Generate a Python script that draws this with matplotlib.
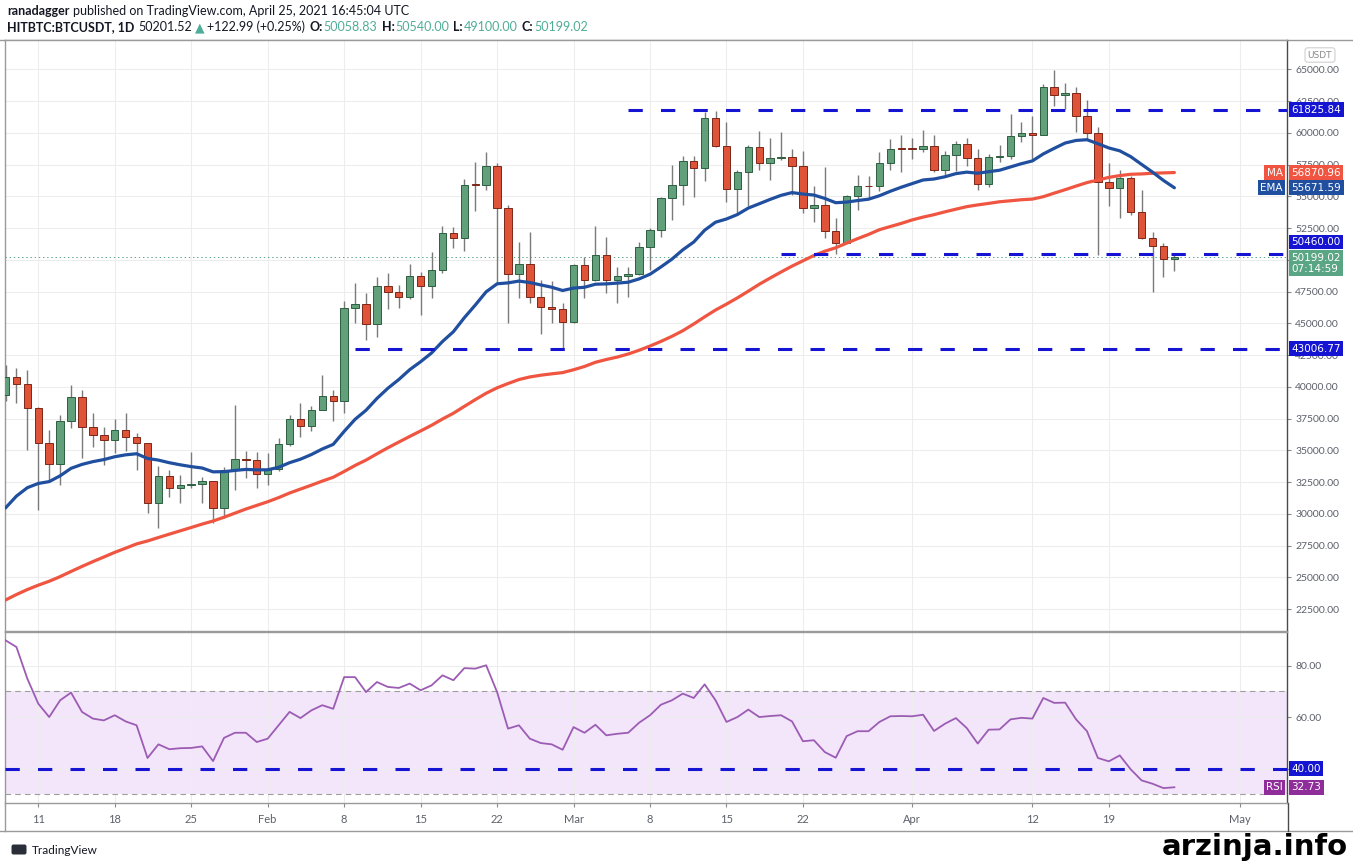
import matplotlib
matplotlib.use('Agg')
import matplotlib.pyplot as plt
import matplotlib.transforms as mtransforms
from matplotlib.patches import FancyBboxPatch
import numpy as np
import pandas as pd

plt.rcParams['font.family'] = ['Liberation Sans Narrow', 'Lato', 'DejaVu Sans']
plt.rcParams['lines.scale_dashes'] = False

# daily candles, HITBTC BTC/USDT
start_date = '2021-01-08'
end_date = '2021-04-25'

opens = [39371, 40797, 40254, 38356, 35566, 33923, 37316, 39187, 36825, 36178, 35792, 36630,
         36069, 35547, 30825, 33005, 32067, 32289, 32366, 32569, 30433, 33466, 34316, 34269,
         33114, 33537, 35510, 37472, 36926, 38144, 39266, 38903, 46196, 46481, 44918, 47909,
         47504, 47106, 48717, 47945, 49199, 52149, 51679, 55888, 55887, 57412, 54087, 48891,
         49676, 47073, 46276, 46106,
         45135, 49587, 48440, 50349, 48374, 48751, 48882, 50971, 52375, 54884, 55851, 57773,
         57221, 61188, 58968, 55605, 56900, 58912, 57648, 58030, 58102, 57351, 54083, 54340,
         52303, 51293, 55025, 55817, 55777, 57635, 58746,
         58740, 58720, 58981, 57094, 58216, 59123, 58019, 56000, 58093, 58134, 59770, 60002,
         59860, 63575, 62959, 63159, 61334, 60006, 56150, 55633, 56425, 53787, 51690, 51125,
         50058.83]
highs = [41700, 41500, 41340, 38400, 36600, 37800, 40160, 39760, 37950, 36850, 37480, 37950,
         36370, 35600, 33770, 33450, 33060, 34880, 32900, 32600, 33700, 38570, 34950, 34880,
         34800, 35980, 37800, 38740, 38500, 40950, 39760, 46780, 48200, 47400, 48680, 48990,
         48050, 49700, 49070, 50650, 52700, 52600, 56400, 57670, 58460, 57600, 54300, 51430,
         52150, 48440, 48360, 46630,
         49700, 50250, 52700, 51830, 49400, 49400, 51430, 52500, 54950, 57430, 58140, 58140,
         61610, 61690, 60820, 57100, 59000, 60110, 59560, 60030, 58690, 58530, 55850, 57270,
         53330, 55100, 56640, 56560, 58460, 59480, 59800,
         59560, 60190, 59800, 58530, 59320, 59560, 58690, 58300, 59010, 61450, 60820, 61290,
         63820, 64920, 63900, 63580, 62550, 60420, 57590, 57110, 56560, 55530, 52150, 51300,
         50540]
lows = [38900, 38740, 35030, 30300, 32670, 32270, 36770, 34400, 35270, 33850, 34800, 34950,
        33460, 30060, 28880, 31330, 30850, 32040, 30850, 29280, 29670, 31880, 32820, 32040,
        32270, 33400, 35300, 36060, 36500, 38190, 37320, 37950, 45050, 43700, 43950, 46150,
        46230, 46940, 45680, 47020, 49000, 50960, 50730, 53880, 55530, 48200, 45050, 47020,
        46630, 44180, 45050, 43000,
        45000, 47020, 48300, 47400, 46600, 47100, 48800, 49230, 51830, 53170, 54350, 54980,
        56170, 58900, 54590, 53720, 54200, 57040, 56250, 57820, 55140, 53720, 53010, 51750,
        50490, 51300, 53960, 54750, 55400, 57040, 56880,
        57900, 58450, 56880, 56640, 56960, 57350, 55460, 55770, 57670, 57900, 59240, 57900,
        59800, 62080, 61850, 60030, 59480, 50410, 54200, 53330, 53560, 51600, 47490, 48680,
        49100]
closes = [40797, 40254, 38356, 35566, 33923, 37316, 39187, 36825, 36178, 35792, 36630, 36069,
          35547, 30825, 33005, 32067, 32289, 32366, 32569, 30433, 33466, 34316, 34269, 33114,
          33537, 35510, 37472, 36926, 38144, 39266, 38903, 46196, 46481, 44918, 47909, 47504,
          47106, 48717, 47945, 49199, 52149, 51679, 55888, 55887, 57412, 54087, 48891, 49676,
          47073, 46276, 46106, 45135,
          49587, 48440, 50349, 48374, 48751, 48882, 50971, 52375, 54884, 55851, 57773, 57221,
          61188, 58968, 55605, 56900, 58912, 57648, 58030, 58102, 57351, 54083, 54340, 52303,
          51293, 55025, 55817, 55777, 57635, 58746, 58740,
          58720, 58981, 57094, 58216, 59123, 58019, 56000, 58093, 58134, 59770, 60002, 59860,
          63575, 62959, 63159, 61334, 60006, 56150, 55633, 56425, 53787, 51690, 51125, 50047,
          50199.02]

ma50 = [23212, 23643, 24036, 24379, 24690, 25053, 25461, 25855, 26236, 26597, 26966, 27293,
        27629, 27861, 28132, 28399, 28662, 28922, 29190, 29432, 29730, 30051, 30375, 30661,
        30949, 31274, 31635, 31947, 32254, 32577, 32878, 33332, 33807, 34229, 34722, 35198,
        35646, 36091, 36525, 36968, 37463, 37919, 38457, 38987, 39493, 39919, 40257, 40571,
        40776, 40914, 41020, 41118,
        41343, 41600, 41929, 42150, 42341, 42582, 42878, 43210, 43575, 43971, 44416, 44944,
        45508, 46046, 46512, 47003, 47530, 48074, 48565, 49041, 49503, 49922, 50338, 50674,
        50950, 51312, 51665, 51995, 52370, 52621, 52866,
        53142, 53363, 53555, 53777, 53985, 54186, 54322, 54441, 54570, 54648, 54730, 54779,
        54969, 55250, 55520, 55805, 56080, 56281, 56491, 56628, 56735, 56762, 56817, 56843,
        56870.96]
ema20 = [30460, 31393, 32056, 32390, 32536, 32991, 33581, 33890, 34108, 34268, 34493, 34643,
         34729, 34357, 34228, 34022, 33857, 33715, 33606, 33304, 33319, 33414, 33495, 33459,
         33466, 33661, 34024, 34300, 34666, 35104, 35466, 36488, 37440, 38152, 39081, 39883,
         40571, 41347, 41975, 42663, 43566, 44339, 45439, 46434, 47480, 48109, 48183, 48325,
         48206, 48022, 47840, 47582,
         47773, 47837, 48076, 48104, 48166, 48234, 48495, 48865, 49438, 50049, 50785, 51398,
         52330, 52962, 53214, 53565, 54074, 54414, 54758, 55076, 55293, 55178, 55098, 54832,
         54495, 54545, 54666, 54772, 55045, 55397, 55715,
         56001, 56285, 56362, 56539, 56785, 56903, 56817, 56939, 57053, 57312, 57568, 57786,
         58337, 58777, 59194, 59398, 59456, 59141, 58807, 58580, 58124, 57511, 56903, 56250,
         55671.59]
rsi14 = [89.8, 87.2, 74.9, 65.2, 60.0, 66.5, 69.5, 62.0, 59.4, 58.7, 60.7, 58.3,
         56.8, 44.1, 49.4, 47.5, 47.9, 48.0, 48.6, 42.9, 51.9, 53.9, 53.9, 50.3,
         51.6, 56.8, 62.0, 59.6, 62.6, 64.6, 63.2, 75.5, 75.5, 69.7, 73.6, 71.7,
         71.3, 73.0, 70.4, 72.3, 76.2, 74.3, 79.0, 78.8, 80.1, 69.7, 55.5, 56.8,
         51.6, 49.9, 49.4, 47.3,
         56.1, 53.9, 57.0, 52.9, 53.5, 53.9, 57.8, 60.7, 64.8, 66.5, 69.1, 67.4,
         72.7, 66.5, 58.1, 60.0, 62.9, 60.0, 60.4, 60.7, 58.3, 50.6, 51.0, 46.4,
         44.2, 52.6, 54.5, 54.5, 58.1, 60.3, 60.4,
         60.3, 60.9, 54.6, 57.4, 59.6, 55.7, 49.7, 55.1, 55.2, 59.1, 59.7, 59.4,
         67.4, 65.5, 65.6, 59.1, 54.5, 44.1, 42.8, 45.1, 39.7, 35.4, 34.1, 32.4,
         32.73]

# drawn support / resistance levels
levels = [61825.84, 50460.00, 43006.77]
level_from = ['2021-03-06', '2021-03-20', '2021-02-09']
rsi_level = 40.0

tick_dates = ['2021-01-11', '2021-01-18', '2021-01-25', '2021-02-01', '2021-02-08',
              '2021-02-15', '2021-02-22', '2021-03-01', '2021-03-08', '2021-03-15',
              '2021-03-22', '2021-04-01', '2021-04-12', '2021-04-19', '2021-05-01']
tick_labels = ['11', '18', '25', 'Feb', '8', '15', '22', 'Mar', '8', '15', '22', 'Apr',
               '12', '19', 'May']
price_ticks = np.arange(22500, 65001, 2500)
hidden_price_labels = [50000]   # sits under the last-price badge
rsi_ticks = [40, 60, 80]
rsi_tick_labels = ['', '60.00', '80.00']

# colours
up_face, up_edge = '#62a07c', '#2d5e40'
dn_face, dn_edge = '#df5338', '#7c2616'
wick_col = '#7a7a7a'
level_col = '#1414d2'
grid_col = '#ededed'
txt_dark = '#131722'
txt_gray = '#5d606b'
teal = '#4fad97'

W, H = 1353, 864
fig = plt.figure(figsize=(W / 100, H / 100), dpi=100)


def rect(x0, y0, x1, y1):
    return [x0 / W, 1 - y1 / H, (x1 - x0) / W, (y1 - y0) / H]


bg = fig.add_axes([0, 0, 1, 1])
bg.set_xlim(0, W)
bg.set_ylim(H, 0)
bg.axis('off')

ax = fig.add_axes(rect(5, 40, 1287, 631))
axr = fig.add_axes(rect(5, 632, 1287, 803))

dates = pd.date_range(start_date, end_date, freq='D')
x = np.arange(len(dates))
start = pd.Timestamp(start_date)
tick_x = [(pd.Timestamp(d) - start).days for d in tick_dates]

o = np.array(opens, dtype=float)
h = np.array(highs, dtype=float)
l = np.array(lows, dtype=float)
c = np.array(closes, dtype=float)
up = c >= o

# ---- price pane ----
ax.vlines(x, l, h, color=wick_col, lw=1.0, zorder=3)
body_bottom = np.minimum(o, c)
body_h = np.maximum(np.abs(c - o), 60)
ax.bar(x, body_h, bottom=body_bottom, width=0.68,
       color=np.where(up, up_face, dn_face), edgecolor=np.where(up, up_edge, dn_edge),
       linewidth=0.7, zorder=4)
ax.plot(x, ma50, color='#ef5540', lw=2.3, zorder=5, solid_capstyle='round')
ax.plot(x, ema20, color='#1f4f9e', lw=2.3, zorder=5, solid_capstyle='round')

xmin, xmax = -0.046, 117.31
for lvl, d in zip(levels, level_from):
    x0 = (pd.Timestamp(d) - start).days
    ax.plot([x0, xmax], [lvl, lvl], color=level_col, lw=2.2,
            dashes=(10.3, 13.1), zorder=6, solid_capstyle='butt')
ax.axhline(c[-1], color='#5aa583', lw=0.7, ls=(0, (1, 2)), zorder=2)

ax.set_xlim(xmin, xmax)
ax.set_ylim(20772, 67307)
ax.set_xticks(tick_x)
ax.set_yticks(price_ticks)
ax.yaxis.tick_right()
ax.yaxis.set_major_formatter(matplotlib.ticker.FuncFormatter(
    lambda v, p: '' if round(v) in hidden_price_labels else f'{v:.2f}'))
ax.tick_params(axis='x', length=0, labelbottom=False)
ax.tick_params(axis='y', length=3, pad=3, labelsize=7.5, colors='#8a8a8a', labelcolor=txt_gray)
ax.grid(True, color=grid_col, lw=0.8, zorder=0)
ax.set_axisbelow(True)

# ---- RSI pane ----
axr.axhspan(30, 70, color='#f3e6fb', zorder=0, lw=0)
for v in (70, 30):
    axr.axhline(v, color='#9e9e9e', lw=0.8, ls=(0, (4, 3)), zorder=1)
axr.plot(x, rsi14, color='#9c5cb4', lw=1.3, zorder=4)
axr.axhline(rsi_level, color=level_col, lw=2.2, dashes=(10.3, 13.1), zorder=5)
axr.set_xlim(xmin, xmax)
axr.set_ylim(26.62, 93.03)
axr.set_yticks(rsi_ticks)
axr.set_yticklabels(rsi_tick_labels)
axr.yaxis.tick_right()
axr.set_xticks(tick_x)
axr.set_xticklabels(tick_labels)
axr.tick_params(axis='y', length=3, pad=3, labelsize=7.5, colors='#8a8a8a', labelcolor=txt_gray)
axr.tick_params(axis='x', length=3, pad=5, labelsize=8, colors='#8a8a8a', labelcolor=txt_gray)
axr.grid(True, color=grid_col, lw=0.8, zorder=0)
axr.set_axisbelow(True)

for a in (ax, axr):
    for s in ('left', 'top', 'bottom'):
        a.spines[s].set_color('#9a9a9a')
        a.spines[s].set_linewidth(1.0)
    a.spines['right'].set_color('#4a4a4a')
    a.spines['right'].set_linewidth(1.0)


# ---- axis badges ----
def badge(a, y, text, fc, side='right', dy=0):
    tr = mtransforms.blended_transform_factory(a.transAxes, a.transData)
    tr = mtransforms.offset_copy(tr, fig=fig, y=dy, units='dots')
    xx, ha = (1.0035, 'left') if side == 'right' else (0.9967, 'right')
    a.text(xx, y, text, transform=tr, ha=ha, va='center', color='white', fontsize=7.5,
           family='DejaVu Sans', clip_on=False, zorder=10, linespacing=1.15,
           bbox=dict(boxstyle='square,pad=0.22', fc=fc, ec='none'))


badge(ax, levels[0], f'{levels[0]:.2f}', level_col)
badge(ax, ma50[-1], f'{ma50[-1]:.2f}', '#ef5540')
badge(ax, ma50[-1], 'MA', '#ef5540', side='left')
badge(ax, ema20[-1], f'{ema20[-1]:.2f}', '#1f4f9e')
badge(ax, ema20[-1], 'EMA', '#1f4f9e', side='left')
badge(ax, levels[1], f'{levels[1]:.2f}', level_col, dy=12)
badge(ax, c[-1], f'{c[-1]:.2f}\n07:14:59', '#5aa583', dy=-6)
badge(ax, levels[2], f'{levels[2]:.2f}', level_col)
badge(axr, rsi_level, f'{rsi_level:.2f}', level_col)
badge(axr, rsi14[-1], f'{rsi14[-1]:.2f}', '#8f2d9b')
badge(axr, rsi14[-1], 'RSI', '#8f2d9b', side='left')

bg.text(1320, 55, 'USDT', ha='center', va='center', fontsize=6.5, color='#8a8a8a',
        family='DejaVu Sans',
        bbox=dict(boxstyle='round,pad=0.3', fc='white', ec='#d0d0d0', lw=0.8))

# ---- frame lines ----
bg.plot([0, W], [40, 40], color='#9a9a9a', lw=1.0)
bg.plot([0, W], [831, 831], color='#9a9a9a', lw=1.0)
bg.plot([1287.5, 1287.5], [803, 831], color='#4a4a4a', lw=1.0)
bg.plot([5, 5], [803, 831], color='#9a9a9a', lw=1.0)


# ---- header and legend texts ----
def chain(pieces, x0, y0, size):
    prev = bg.text(x0, y0, pieces[0][0], color=pieces[0][1], fontweight=pieces[0][2],
                   fontsize=size, va='center', ha='left')
    for txt, col, wt, gap in pieces[1:]:
        prev = bg.annotate(txt, xy=(1, 0), xycoords=prev, xytext=(gap, 0),
                           textcoords='offset points', va='bottom', ha='left',
                           color=col, fontweight=wt, fontsize=size)


chain([('ranadagger', txt_dark, 'bold'),
       ('published on TradingView.com, April 25, 2021 16:45:04 UTC', txt_dark, 'normal', 2.5)],
      7, 11, 9)
chain([('HITBTC:BTCUSDT, 1D', txt_dark, 'bold'),
       ('50201.52', txt_dark, 'normal', 3),
       ('\u25b2', teal, 'normal', 2),
       ('+122.99 (+0.25%)', txt_dark, 'normal', 2),
       ('O:', txt_dark, 'bold', 3), ('50058.83', teal, 'normal', 0.5),
       ('H:', txt_dark, 'bold', 3), ('50540.00', teal, 'normal', 0.5),
       ('L:', txt_dark, 'bold', 3), ('49100.00', teal, 'normal', 0.5),
       ('C:', txt_dark, 'bold', 3), ('50199.02', teal, 'normal', 0.5)],
      7, 27, 9)

bg.text(14, 57, 'Bitcoin / Tether, 1D, HITBTC', color='#434651', fontweight='bold',
        fontsize=9.5, va='center')
bg.text(14, 74, 'MA (50, close, 0)', color=txt_gray, fontsize=9.5, va='center')
bg.text(14, 91, 'EMA (20, close, 0)', color=txt_gray, fontsize=9.5, va='center')
bg.text(14, 648, 'RSI (14, close)', color=txt_gray, fontsize=9.5, va='center')

# TradingView mark and watermark
bg.add_patch(FancyBboxPatch((12, 845), 14, 9, boxstyle='round,pad=0.5,rounding_size=2',
                            fc='#2a2e39', ec='none'))
bg.text(32, 850, 'TradingView', color=txt_dark, fontsize=8.5, va='center')
bg.text(1348, 855, 'arzinja.info', color='black', fontsize=21, fontweight='bold',
        family='DejaVu Sans', ha='right', va='baseline')

fig.savefig('out.png', dpi=100)
